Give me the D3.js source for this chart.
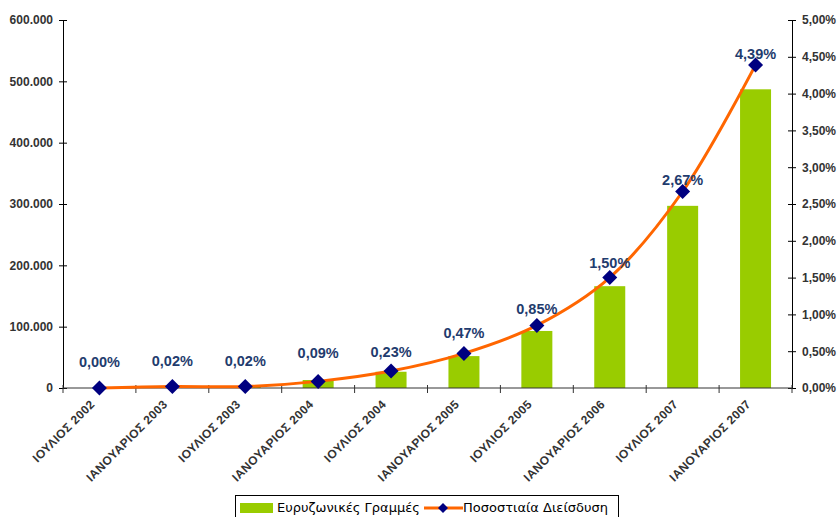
<!DOCTYPE html>
<html><head><meta charset="utf-8">
<script src="https://cdn.jsdelivr.net/npm/d3@7"></script>
<style>body{margin:0;background:#fff}svg{display:block}</style>
</head><body><div id="chart"></div>
<script>
const categories = ["ΙΟΥΛΙΟΣ 2002","ΙΑΝΟΥΑΡΙΟΣ 2003","ΙΟΥΛΙΟΣ 2003","ΙΑΝΟΥΑΡΙΟΣ 2004","ΙΟΥΛΙΟΣ 2004","ΙΑΝΟΥΑΡΙΟΣ 2005","ΙΟΥΛΙΟΣ 2005","ΙΑΝΟΥΑΡΙΟΣ 2006","ΙΟΥΛΙΟΣ 2007","ΙΑΝΟΥΑΡΙΟΣ 2007"];
const lines = [0, 1500, 1800, 13000, 26500, 52000, 93000, 166000, 297000, 487000];
const penetration = [0.00, 0.02, 0.02, 0.09, 0.23, 0.47, 0.85, 1.50, 2.67, 4.39];
const leftTicks = [0,100000,200000,300000,400000,500000,600000];
const rightTicks = [0,0.5,1,1.5,2,2.5,3,3.5,4,4.5,5];
const seriesNames = ["Ευρυζωνικές Γραμμές","Ποσοστιαία Διείσδυση"];
// layout: vertical lift of each data label above its marker (px)
const labelLift = [26,26,26,28,19,20,17,15,12,11];

const W=838,H=517, L=63, R=792, T=20, B=388;
const svg=d3.select("#chart").append("svg").attr("width",W).attr("height",H);
const x=d3.scaleBand().domain(categories).range([L,R]).paddingInner(0).paddingOuter(0);
const yL=d3.scaleLinear().domain([0,600000]).range([B,T]);
const yR=d3.scaleLinear().domain([0,5]).range([B,T]);
const fmtL=d=> d===0?"0":d3.format(",")(d).replace(/,/g,".");
const fmtP=d=> d.toFixed(2).replace(".",",")+"%";
const font="'Liberation Sans',Arial,sans-serif";

// bars
const bw=31;
svg.append("g").selectAll("rect").data(lines).join("rect")
  .attr("x",(d,i)=>x(categories[i])+x.bandwidth()/2-bw/2)
  .attr("width",bw)
  .attr("y",d=>yL(d)).attr("height",d=>B-yL(d))
  .attr("fill","#99CC00");

// axes
const axisColor="#333";
const gL=svg.append("g").attr("transform",`translate(${L},0)`)
  .call(d3.axisLeft(yL).tickValues(leftTicks).tickFormat(fmtL).tickSizeInner(4).tickSizeOuter(0).tickPadding(6));
gL.selectAll(".tick line").attr("x2",-4).attr("x1",4);
const gR=svg.append("g").attr("transform",`translate(${R},0)`)
  .call(d3.axisRight(yR).tickValues(rightTicks).tickFormat(fmtP).tickSizeInner(4).tickSizeOuter(0).tickPadding(6));
gR.selectAll(".tick line").attr("x1",-4).attr("x2",4);
const boundaries=d3.range(categories.length+1).map(i=>L+i*x.bandwidth());
const gX=svg.append("g");
gX.append("line").attr("x1",L).attr("x2",R).attr("y1",B).attr("y2",B).attr("stroke",axisColor);
gX.selectAll("line.t").data(boundaries).join("line").attr("class","t")
  .attr("x1",d=>d).attr("x2",d=>d).attr("y1",B-3).attr("y2",B+5).attr("stroke",axisColor);
[gL,gR].forEach(g=>{
  g.select(".domain").attr("stroke","#000");
  g.selectAll(".tick line").attr("stroke","#000");
  g.selectAll("text").attr("font-family",font)
   .attr("font-size",12).attr("font-weight","bold").attr("fill","#333");
});
gX.selectAll("text").data(categories).join("text")
  .attr("transform",d=>`translate(${x(d)+x.bandwidth()/2-4},${B+17}) rotate(-45)`)
  .attr("text-anchor","end")
  .attr("font-family",font).attr("font-size",12).attr("letter-spacing","0.4px")
  .attr("font-weight","bold").attr("fill","#333").text(d=>d);

// line
const pts=penetration.map((v,i)=>[x(categories[i])+x.bandwidth()/2, yR(v)]);
svg.append("path").attr("d",d3.line().curve(d3.curveCatmullRom.alpha(0.5))(pts))
  .attr("fill","none").attr("stroke","#FF6600").attr("stroke-width",3);
const r=7.5;
svg.append("g").selectAll("path").data(pts).join("path")
  .attr("d",d=>`M${d[0]},${d[1]-r}L${d[0]+r},${d[1]}L${d[0]},${d[1]+r}L${d[0]-r},${d[1]}Z`)
  .attr("fill","#000080");
svg.append("g").selectAll("text").data(penetration).join("text")
  .attr("x",(d,i)=>pts[i][0]).attr("y",(d,i)=>pts[i][1]-labelLift[i])
  .attr("text-anchor","middle").attr("dy","0.35em")
  .attr("font-family",font).attr("font-size",14.5)
  .attr("font-weight","bold").attr("fill","#1F3C6E").text(d=>fmtP(d));

// legend
const lg=svg.append("g");
lg.append("rect").attr("x",235.5).attr("y",495.5).attr("width",383).attr("height",30)
  .attr("fill","#fff").attr("stroke","#000");
lg.append("rect").attr("x",240).attr("y",503).attr("width",33).attr("height",10).attr("fill","#99CC00");
lg.append("text").attr("x",277).attr("y",512).text(seriesNames[0]);
lg.append("line").attr("x1",424).attr("x2",463).attr("y1",508).attr("y2",508).attr("stroke","#FF6600").attr("stroke-width",3);
lg.append("path").attr("d","M443,503L448,508L443,513L438,508Z").attr("fill","#000080");
lg.append("text").attr("x",463).attr("y",512).text(seriesNames[1]);
lg.selectAll("text").attr("font-family","'DejaVu Sans',Verdana,sans-serif").attr("font-size",13).attr("fill","#000");
</script></body></html>
